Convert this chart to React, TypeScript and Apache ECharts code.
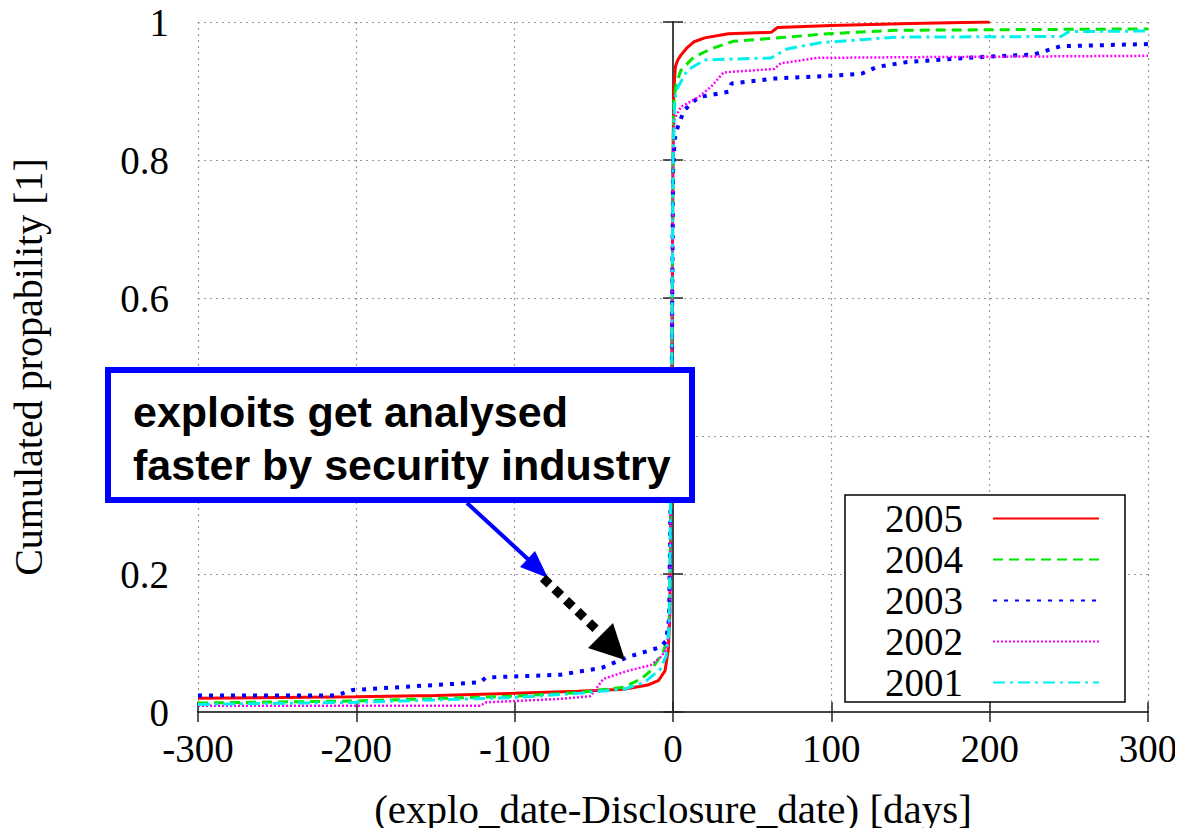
import React, { useEffect, useRef } from "react";
import * as echarts from "echarts";

// [days, cumulated probability]
const s2005: [number, number][] = [
  [-300, 0.02], [-200, 0.022], [-150, 0.024], [-100, 0.027], [-60, 0.03], [-31, 0.033],
  [-16, 0.039], [-9, 0.046], [-5, 0.06], [-3, 0.09], [-2, 0.14], [-1, 0.4], [0, 0.8],
  [0.5, 0.9], [1.5, 0.935], [3, 0.945], [5, 0.952], [9, 0.963], [13, 0.971], [20, 0.977],
  [35, 0.983], [62, 0.985], [66, 0.992], [100, 0.995], [150, 0.998], [200, 1.0],
];
const s2004: [number, number][] = [
  [-300, 0.013], [-200, 0.016], [-100, 0.023], [-60, 0.028], [-31, 0.036], [-20, 0.048],
  [-14, 0.06], [-6, 0.088], [-3, 0.11], [-2, 0.15], [-1, 0.4], [0, 0.8], [0.5, 0.885],
  [2, 0.91], [5, 0.93], [13, 0.949], [24, 0.961], [38, 0.972], [66, 0.977], [98, 0.983],
  [140, 0.988], [300, 0.99],
];
const s2003: [number, number][] = [
  [-300, 0.024], [-213, 0.024], [-202, 0.032], [-122, 0.043], [-118, 0.05], [-71, 0.054],
  [-45, 0.064], [-28, 0.08], [-8, 0.094], [-4.4, 0.103], [-2.5, 0.135], [-1, 0.4], [0, 0.78],
  [1, 0.83], [3, 0.848], [7, 0.872], [16, 0.891], [35, 0.899], [37, 0.911], [64, 0.918],
  [98, 0.922], [119, 0.925], [129, 0.935], [148, 0.942], [200, 0.95], [228, 0.953],
  [245, 0.965], [300, 0.968],
];
const s2002: [number, number][] = [
  [-300, 0.009], [-122, 0.009], [-118, 0.014], [-71, 0.019], [-52, 0.023], [-44, 0.048],
  [-28, 0.06], [-14, 0.068], [-7.6, 0.08], [-4, 0.092], [-2, 0.14], [-1, 0.4], [0, 0.8],
  [1, 0.86], [5, 0.877], [16, 0.891], [24, 0.906], [32, 0.927], [64, 0.932], [68, 0.94],
  [91, 0.948], [150, 0.949], [300, 0.951],
];
const s2001: [number, number][] = [
  [-300, 0.011], [-200, 0.014], [-100, 0.021], [-60, 0.027], [-31, 0.033], [-18, 0.043],
  [-8, 0.062], [-4.4, 0.081], [-2.5, 0.12], [-1, 0.4], [0, 0.8], [1, 0.88], [2, 0.901],
  [9, 0.93], [20, 0.945], [62, 0.948], [72, 0.961], [93, 0.97], [140, 0.978], [245, 0.979],
  [250, 0.986], [300, 0.987],
];

const seriesNames = ["2005", "2004", "2003", "2002", "2001"];
const seriesData = [s2005, s2004, s2003, s2002, s2001];
const seriesColors = ["#ff0000", "#00e800", "#0000ff", "#ff00ff", "#00f0f0"];
const seriesDash: any[] = ["solid", [10, 6], [4, 7], [2, 2], [12, 5, 3, 5]];
const seriesWidth = [3, 3, 4, 2.5, 3];

const xTicks = { min: -300, max: 300, interval: 100 };
const yTicks = { min: 0, max: 1, interval: 0.2 };
// the 0.4 label is hidden behind the annotation box in the reference
const hiddenYLabels = [0.4];

const annotationLines = ["exploits get analysed", "faster by security industry"];
const xName = "(explo_date-Disclosure_date) [days]";
const yName = "Cumulated propability [1]";

const SERIF = "'Liberation Serif', 'Times New Roman', serif";
const SANS = "'Liberation Sans', Arial, sans-serif";

export default function App() {
  const ref = useRef<HTMLDivElement>(null);
  useEffect(() => {
    if (!ref.current) return;
    const chart = echarts.init(ref.current, null, { renderer: "svg" });
    const frame = { show: true, lineStyle: { color: "#444", width: 2 } };
    const tick = { show: true, inside: true, length: 10, lineStyle: { color: "#222", width: 1.5 } };
    const grid = { show: true, lineStyle: { color: "#999", type: [2, 4] as any, width: 1.2 } };
    const option: any = {
      animation: false,
      backgroundColor: "#fff",
      grid: { left: 197, right: 35, top: 22, bottom: 124 },
      xAxis: [
        {
          type: "value", ...xTicks, position: "bottom",
          axisLine: frame, axisTick: tick, splitLine: grid,
          axisLabel: { color: "#000", fontSize: 39, fontFamily: SERIF, margin: 17 },
          name: xName, nameLocation: "middle", nameGap: 76,
          nameTextStyle: { color: "#000", fontSize: 41, fontFamily: SERIF },
        },
        {
          type: "value", ...xTicks, position: "top",
          axisLine: frame, axisTick: tick, splitLine: { show: false }, axisLabel: { show: false },
        },
      ],
      yAxis: [
        {
          type: "value", ...yTicks, position: "left",
          axisLine: frame, axisTick: tick, splitLine: grid,
          axisLabel: {
            color: "#000", fontSize: 39, fontFamily: SERIF, margin: 29,
            formatter: (v: number) => (hiddenYLabels.some((h) => Math.abs(h - v) < 1e-9) ? "" : String(v)),
          },
          name: yName, nameLocation: "middle", nameGap: 150, nameRotate: 90,
          nameTextStyle: { color: "#000", fontSize: 40, fontFamily: SERIF },
        },
        {
          type: "value", ...yTicks, position: "right",
          axisLine: frame, axisTick: tick, splitLine: { show: false }, axisLabel: { show: false },
        },
      ],
      legend: {
        orient: "vertical",
        left: 845, top: 495,
        align: "right",
        padding: [4, 25, 0, 40],
        itemWidth: 106, itemHeight: 30, itemGap: 2,
        backgroundColor: "#fff",
        borderColor: "#000", borderWidth: 1.5,
        itemStyle: { opacity: 0 },
        textStyle: { color: "#000", fontSize: 39, fontFamily: SERIF, padding: [0, 25, 0, 0] },
        data: seriesNames,
      },
      series: seriesNames.map((n, i) => ({
        name: n,
        type: "line",
        data: seriesData[i],
        showSymbol: false,
        symbol: "none",
        z: 2 + i,
        lineStyle: { color: seriesColors[i], width: seriesWidth[i], type: seriesDash[i], cap: "butt" },
        itemStyle: { color: seriesColors[i] },
      })),
      graphic: [
        {
          type: "rect", z: 100,
          shape: { x: 108, y: 370, width: 584, height: 130 },
          style: { fill: "#fff", stroke: "#0000ff", lineWidth: 6 },
        },
        ...annotationLines.map((t, i) => ({
          type: "text", z: 101, x: 133, y: 412 + i * 53,
          style: { text: t, fill: "#000", font: `bold 43px ${SANS}`, verticalAlign: "middle" },
        })),
        {
          type: "line", z: 100,
          shape: { x1: 467, y1: 503, x2: 530, y2: 561 },
          style: { stroke: "#0000ff", lineWidth: 4 },
        },
        {
          type: "polygon", z: 100,
          shape: { points: [[548, 578], [520, 567], [535, 551]] },
          style: { fill: "#0000ff" },
        },
        {
          type: "line", z: 100,
          shape: { x1: 543, y1: 578, x2: 600, y2: 633 },
          style: { stroke: "#000", lineWidth: 9, lineDash: [9, 7] },
        },
        {
          type: "polygon", z: 100,
          shape: { points: [[625, 660], [588, 648], [613, 623]] },
          style: { fill: "#000" },
        },
      ],
    };
    chart.setOption(option);
    return () => chart.dispose();
  }, []);
  return <div ref={ref} style={{ width: 1183, height: 836, margin: -8 }} />;
}
